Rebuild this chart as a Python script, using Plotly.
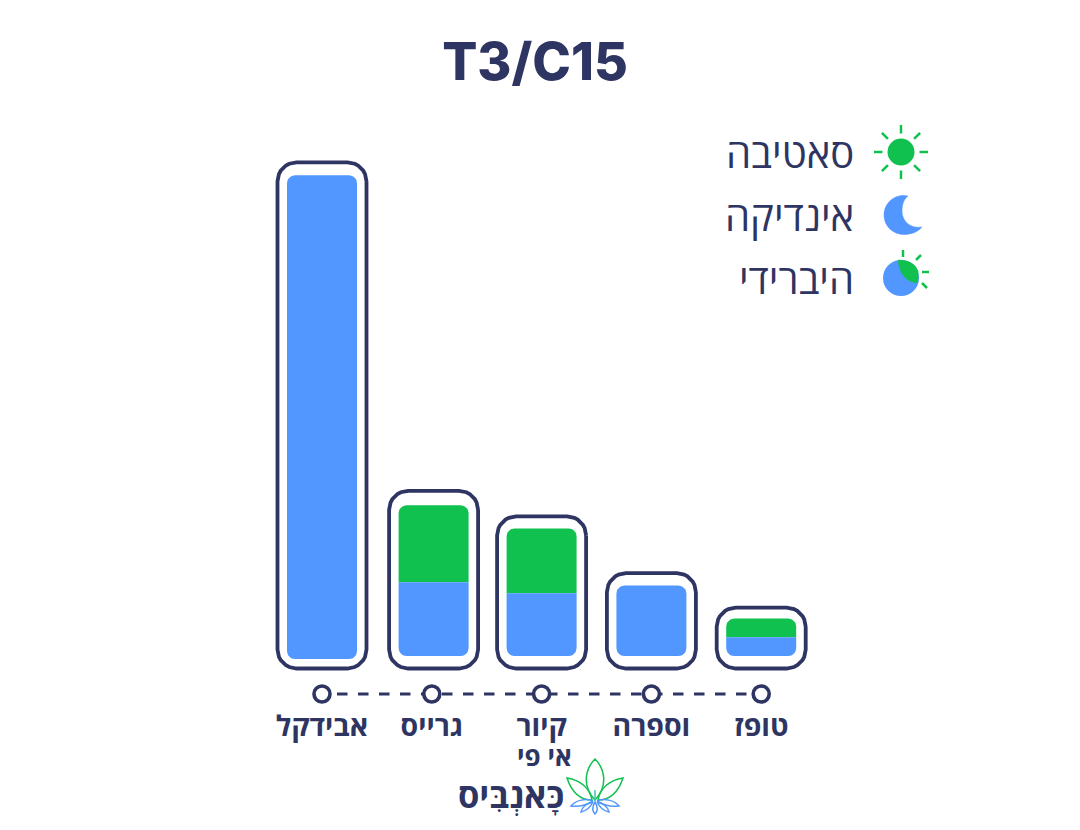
import math
import plotly.graph_objects as go

# ---- data ----
strains = ["אבידקל", "גרייס", "קיור", "וספרה", "טופז"]
strain_second_line = ["", "", "אי פי", "", ""]
indica = [21.85, 3.35, 2.85, 3.2, 0.85]
sativa = [0.0, 3.5, 2.95, 0.0, 0.85]
legend_labels = ["סאטיבה", "אינדיקה", "היברידי"]
title_text = "T3/C15"
brand_text = "כָּאנְבִּיס"

# ---- style ----
NAVY = "#2E3562"
BLUE = "#5197FF"
GREEN = "#10C14F"
TEAL = "#3CC3B4"
W, H = 1080, 830
AXIS_PX = 700          # pixel row of the bottom of the plot area
DOTS_PX = 694          # pixel row of the dotted category line
ZERO_PX = 656          # pixel row of value 0
X0_PX, X_STEP = 322, 109.8
Y_STEP = 22.0          # pixels per value unit
INNER_W, OUTER_W = 70, 89
INNER_R, OUTER_R = 8, 19
FRAME_TOP = [13, 14.5, 12, 12.5, 11]
FRAME_BOTTOM = 12.5
BASE_SHIFT = [3, 0, 0, 0, 0]     # first bar sits slightly lower
BAR_SHIFT = [0, 1.8, 0, 0, 0]    # second bar sits slightly right of its dot
DASH_GAP_PX = 15

FONT = "Open Sans, Liberation Sans, DejaVu Sans, sans-serif"


def rrect(cx, y0, y1, width_px, r_top, r_bot):
    """Rounded rectangle in data coordinates; radii and width are in pixels."""
    hw = width_px / 2 / X_STEP
    xs, ys = [], []
    corners = [
        (cx + hw - r_top / X_STEP, y1 - r_top / Y_STEP, 0, r_top),
        (cx - hw + r_top / X_STEP, y1 - r_top / Y_STEP, 90, r_top),
        (cx - hw + r_bot / X_STEP, y0 + r_bot / Y_STEP, 180, r_bot),
        (cx + hw - r_bot / X_STEP, y0 + r_bot / Y_STEP, 270, r_bot),
    ]
    for ccx, ccy, start, r in corners:
        for i in range(9 if r else 1):
            a = math.radians(start + i * 90 / 8)
            xs.append(ccx + r * math.cos(a) / X_STEP)
            ys.append(ccy + r * math.sin(a) / Y_STEP)
    xs.append(xs[0])
    ys.append(ys[0])
    return xs, ys


fig = go.Figure()
y_axis_bottom = (ZERO_PX - AXIS_PX) / Y_STEP
y_axis_top = ZERO_PX / Y_STEP
x_axis_left = -X0_PX / X_STEP
x_axis_right = (W - X0_PX) / X_STEP

for i, name in enumerate(strains):
    b, s = indica[i], sativa[i]
    low = -BASE_SHIFT[i] / Y_STEP
    top = b + s
    cx = i + BAR_SHIFT[i] / X_STEP
    label = f"{name} {strain_second_line[i]}".strip()
    fx, fy = rrect(cx, -FRAME_BOTTOM / Y_STEP, top + FRAME_TOP[i] / Y_STEP, OUTER_W, OUTER_R, OUTER_R)
    fig.add_trace(go.Scatter(x=fx, y=fy, mode="lines", fill="toself", fillcolor="white",
                             line=dict(color=NAVY, width=3.8), hoverinfo="skip", showlegend=False))
    if s > 0:
        bx, by = rrect(cx, low, b, INNER_W, 0, INNER_R)
        gx, gy = rrect(cx, b, top, INNER_W, INNER_R, 0)
        fig.add_trace(go.Scatter(x=gx, y=gy, mode="lines", fill="toself", fillcolor=GREEN,
                                 line=dict(width=0), name=label, text=f"sativa {s}", hoverinfo="name+text",
                                 showlegend=False))
    else:
        bx, by = rrect(cx, low, b, INNER_W, INNER_R, INNER_R)
    fig.add_trace(go.Scatter(x=bx, y=by, mode="lines", fill="toself", fillcolor=BLUE,
                             line=dict(width=0), name=label, text=f"indica {b}", hoverinfo="name+text",
                             showlegend=False))

axis_x = list(range(len(strains)))
axis_y = [(ZERO_PX - DOTS_PX) / Y_STEP] * len(strains)
dash_x = [DASH_GAP_PX / X_STEP] + axis_x[1:]
fig.add_trace(go.Scatter(x=dash_x, y=axis_y, mode="lines", cliponaxis=False, hoverinfo="skip",
                         line=dict(color=NAVY, width=3.2, dash="10.5px,10.5px"), showlegend=False))
fig.add_trace(go.Scatter(x=axis_x, y=axis_y, mode="markers", cliponaxis=False, hoverinfo="skip",
                         marker=dict(size=16, color="white", line=dict(color=NAVY, width=3.6)), showlegend=False))


# ---- pixel helpers for the decorative icons ----
def px(x):
    return x / W


def py(y):
    return (AXIS_PX - y) / AXIS_PX


def path(d):
    """d: list of tokens, tuples are pixel points."""
    out = []
    for t in d:
        out.append(f"{px(t[0]):.5f},{py(t[1]):.5f}" if isinstance(t, tuple) else t)
    return " ".join(out)


shapes = []


def circle(cx, cy, r, color):
    shapes.append(dict(type="circle", xref="paper", yref="paper", x0=px(cx - r), x1=px(cx + r),
                       y0=py(cy + r), y1=py(cy - r), fillcolor=color, line=dict(width=0), layer="above"))


def seg(x0, y0, x1, y1, color=GREEN, width=2.5):
    shapes.append(dict(type="line", xref="paper", yref="paper", x0=px(x0), x1=px(x1), y0=py(y0), y1=py(y1),
                       line=dict(color=color, width=width), layer="above"))


def curve(d, color, width=1.5, fill=None):
    shapes.append(dict(type="path", xref="paper", yref="paper", path=path(d), layer="above",
                       line=dict(color=color, width=width),
                       fillcolor=fill if fill else "rgba(0,0,0,0)"))


# sun
sx, sy = 901, 152
circle(sx, sy, 13.5, GREEN)
for k in range(8):
    a = math.radians(45 * k)
    seg(sx + 18.5 * math.cos(a), sy + 18.5 * math.sin(a), sx + 27 * math.cos(a), sy + 27 * math.sin(a))
# moon
curve(["M", (908, 196), "C", (895, 193), (884, 203), (884, 215), "C", (884, 227), (894, 234.5), (904, 234.5),
       "C", (911, 234.5), (918, 232), (922, 227), "C", (910, 229), (902, 221), (902, 211),
       "C", (902, 204), (904, 199), (908, 196), "Z"], BLUE, width=0.5, fill=BLUE)
# hybrid
circle(901, 278, 18, BLUE)
curve(["M", (898, 260), "Q", (914, 260), (918, 271), "Q", (919, 277), (917, 283), "Q", (900, 281), (898, 260), "Z"],
      GREEN, width=0.5, fill=GREEN)
seg(903, 250, 903, 257)
seg(921, 255, 916, 260)
seg(922, 272, 929, 272)
seg(922, 283, 927, 288)

# cannabis leaf logo
curve(["M", (595, 800), "C", (581, 785), (586, 768), (595, 759), "C", (604, 768), (609, 785), (595, 800)], GREEN)
curve(["M", (592, 800), "C", (578, 800), (571, 790), (567, 778), "C", (580, 780), (590, 788), (592, 800)], GREEN)
curve(["M", (598, 800), "C", (612, 800), (619, 790), (623, 778), "C", (610, 780), (600, 788), (598, 800)], GREEN)
curve(["M", (593, 801), "C", (585, 806), (578, 807), (571, 806), "C", (576, 800), (586, 798), (593, 801)], BLUE)
curve(["M", (597, 801), "C", (605, 806), (612, 807), (619, 806), "C", (614, 800), (604, 798), (597, 801)], BLUE)
curve(["M", (593, 802), "C", (590, 808), (586, 811), (581, 812), "C", (582, 807), (587, 803), (593, 802)], BLUE)
curve(["M", (597, 802), "C", (600, 808), (604, 811), (609, 812), "C", (608, 807), (603, 803), (597, 802)], BLUE)
curve(["M", (595, 802), "C", (592, 807), (592, 811), (595, 814), "C", (598, 811), (598, 807), (595, 802)], BLUE)
curve(["M", (595, 802), "L", (595, 790)], TEAL)

annotations = []
for text, cy in zip(legend_labels, [152, 215, 278]):
    annotations.append(dict(text=text, xref="paper", yref="paper", x=px(856), y=py(cy), xanchor="right",
                            yanchor="middle", showarrow=False, font=dict(family=FONT, size=40, color=NAVY)))
annotations.append(dict(text=strain_second_line[2], xref="paper", yref="paper", x=px(544), y=py(756),
                        xanchor="center", yanchor="middle", showarrow=False,
                        font=dict(family=FONT, size=26, color=NAVY, weight=700)))
annotations.append(dict(text=brand_text, xref="paper", yref="paper", x=px(566), y=py(794), xanchor="right",
                        yanchor="middle", showarrow=False, font=dict(family=FONT, size=34.5, color=NAVY, weight=700)))

fig.update_layout(
    width=W, height=H, autosize=False,
    margin=dict(l=0, r=0, t=0, b=H - AXIS_PX, pad=0),
    paper_bgcolor="white", plot_bgcolor="white",
    showlegend=False,
    title=dict(text=title_text, x=535 / W, xanchor="center", y=1 - 62 / H, yanchor="middle",
               font=dict(family="Inter, Liberation Sans, sans-serif", size=52, color=NAVY, weight=800)),
    xaxis=dict(range=[x_axis_left, x_axis_right], tickvals=axis_x, ticktext=strains, showgrid=False,
               zeroline=False, showline=False, ticks="outside", ticklen=1, tickcolor="rgba(0,0,0,0)",
               tickfont=dict(family=FONT, size=28.5, color=NAVY, weight=700), tickangle=0, fixedrange=True),
    yaxis=dict(range=[y_axis_bottom, y_axis_top], visible=False, fixedrange=True),
    shapes=shapes, annotations=annotations,
)

fig.write_html("out.html", post_script="document.body.style.margin='0';", config={"displayModeBar": False})
